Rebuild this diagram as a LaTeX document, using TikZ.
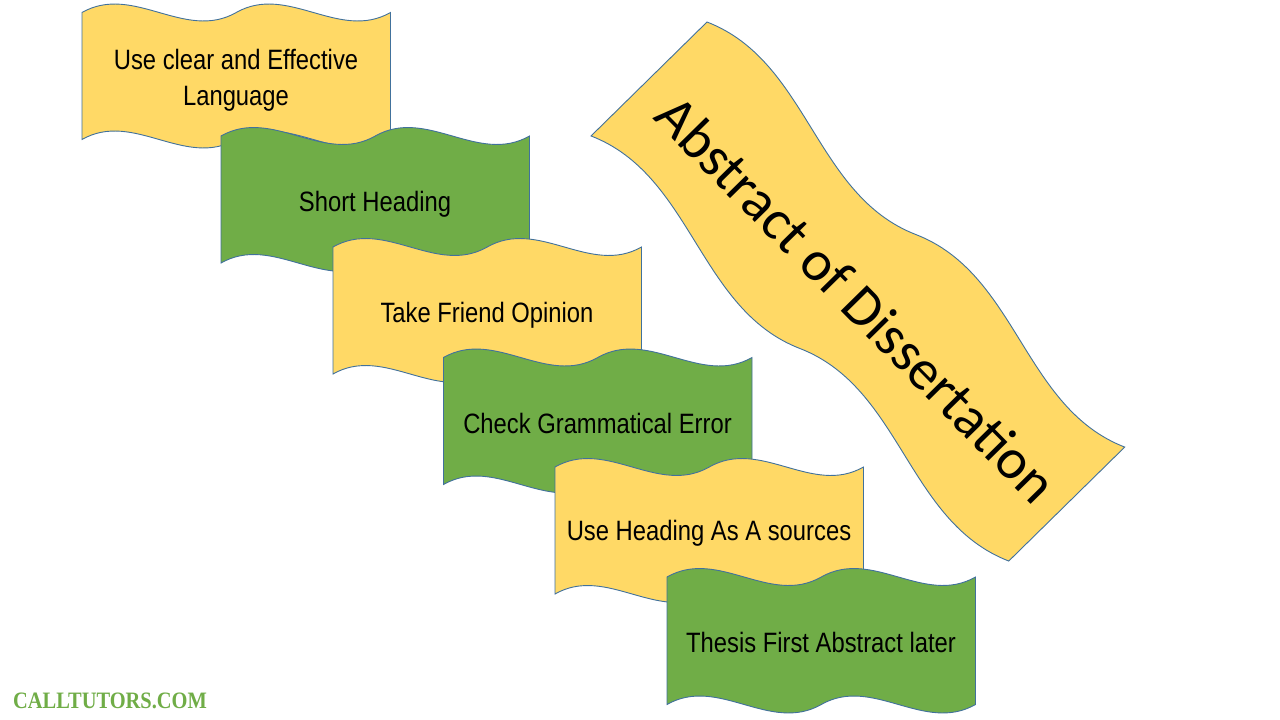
\documentclass[tikz,border=0pt]{standalone}
\usepackage{fontspec}
\setmainfont{Liberation Sans}
\newfontfamily\bandfont[FakeStretch=0.85]{Liberation Sans}
\newfontfamily\titlefont{Carlito}
\newfontfamily\markfont[FakeStretch=0.87]{Liberation Serif}

\definecolor{bandyellow}{HTML}{FFD966}
\definecolor{bandgreen}{HTML}{70AD47}
\definecolor{bandline}{HTML}{41719C}
\definecolor{markgreen}{HTML}{70AD47}

% double wave outline: width, height, amplitude (top left corner at the origin)
\newcommand{\dblwave}[3]{%
    (0,0) .. controls ({#1/6},{-10*#3/3}) and ({#1/3},{10*#3/3}) .. ({#1/2},0)
    .. controls ({2*#1/3},{-10*#3/3}) and ({5*#1/6},{10*#3/3}) .. (#1,0)
    -- (#1,#2)
    .. controls ({5*#1/6},{#2+10*#3/3}) and ({2*#1/3},{#2-10*#3/3}) .. ({#1/2},#2)
    .. controls ({#1/3},{#2+10*#3/3}) and ({#1/6},{#2-10*#3/3}) .. (0,#2)
    -- cycle}

\begin{document}
\begin{tikzpicture}[x=1pt, y=-1pt,
    yellowband/.style={fill=bandyellow, draw=bandline, line width=0.9pt},
    greenband/.style={fill=bandgreen, draw=bandline, line width=0.9pt},
    bandtext/.style={font=\bandfont\fontsize{28}{36}\selectfont, align=center}]

    % Page
    \useasboundingbox (0,0) rectangle (1280,720);
    \fill[white] (0,0) rectangle (1280,720);

    % Draw the stepped banners, each one over the one before
    \begin{scope}[shift={(82,12.5)}]
        \draw[yellowband] \dblwave{308.5}{127}{8.8};
        \node[bandtext] (clear) at (154,68) {Use clear and Effective\\Language};
    \end{scope}
    \begin{scope}[shift={(221,136)}]
        \draw[greenband] \dblwave{308.5}{127}{8.8};
        \node[bandtext] (heading) at (154,68) {Short Heading};
    \end{scope}
    \begin{scope}[shift={(333,247)}]
        \draw[yellowband] \dblwave{308.5}{127}{8.8};
        \node[bandtext] (friend) at (154,68) {Take Friend Opinion};
    \end{scope}
    \begin{scope}[shift={(443.5,357.5)}]
        \draw[greenband] \dblwave{308.5}{127}{8.8};
        \node[bandtext] (grammar) at (154,65.5) {Check Grammatical Error};
    \end{scope}
    \begin{scope}[shift={(555,467)}]
        \draw[yellowband] \dblwave{308.5}{127}{8.8};
        \node[bandtext] (sources) at (154,66) {Use Heading As A sources};
    \end{scope}
    \begin{scope}[shift={(667,577)}]
        \draw[greenband] \dblwave{308.5}{127.5}{8.8};
        \node[bandtext] (thesis) at (154,65.5) {Thesis First Abstract later};
    \end{scope}

    % Draw the big title banner, turned down to the right
    \begin{scope}[shift={(707,22)}, rotate=-45.5]
        \draw[yellowband] \dblwave{596}{162.6}{13.5};
    \end{scope}
    \node[rotate=-45.5, font=\titlefont\fontsize{57}{68}\selectfont] (title) at (857,299) {Abstract of Dissertation};

    % Site name
    \node[anchor=base west, inner sep=0pt, text=markgreen,
        font=\markfont\bfseries\fontsize{23.5}{28}\selectfont] (site) at (13,708) {CALLTUTORS.COM};
\end{tikzpicture}
\end{document}
